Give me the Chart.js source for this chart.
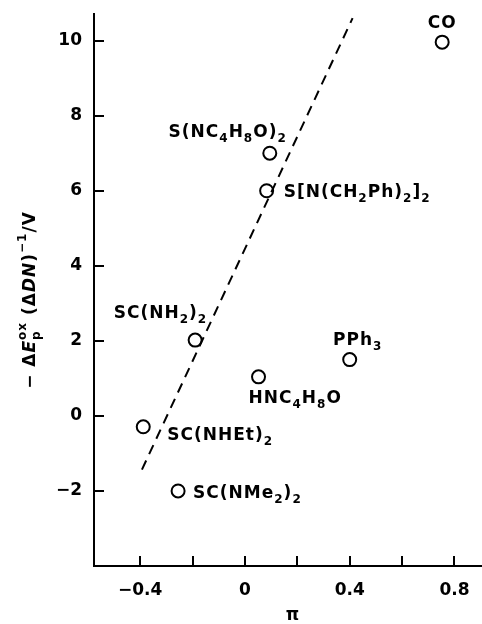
<!DOCTYPE html>
<html><head><meta charset="utf-8">
<script src="https://cdn.jsdelivr.net/npm/chart.js@4/dist/chart.umd.min.js"></script>
<style>html,body{margin:0;padding:0;background:#fff}#wrap{width:482px;height:624px}</style>
</head><body><div id="wrap"><canvas id="c" width="482" height="624"></canvas></div>
<script>
// ---- data ----
const ligands = ['CO','S(NC_4H_8O)_2','S[N(CH_2Ph)_2]_2','SC(NH_2)_2','PPh_3','HNC_4H_8O','SC(NHEt)_2','SC(NMe_2)_2'];
const piValues = [0.753, 0.095, 0.083, -0.19, 0.40, 0.052, -0.388, -0.255];
const dEValues = [9.96, 7.0, 6.0, 2.02, 1.5, 1.04, -0.29, -2.0];
const fitLineX = [-0.393, 0.411];
const fitLineY = [-1.43, 10.6];
const xTickValues = [-0.4, -0.2, 0, 0.2, 0.4, 0.6, 0.8];
const xTickLabels = ['\u22120.4', '', '0', '', '0.4', '', '0.8'];
const yTickValues = [-2, 0, 2, 4, 6, 8, 10];
const yTickLabels = ['\u22122', '0', '2', '4', '6', '8', '10'];

// ---- label placement (styling, px offsets from point) ----
const labelPlacement = [
  {align:'center', dx:0, dy:-14},
  {align:'right', dx:17, dy:-16},
  {align:'left', dx:17, dy:6},
  {align:'right', dx:12, dy:-22},
  {align:'center', dx:8, dy:-15},
  {align:'left', dx:-10, dy:26},
  {align:'left', dx:24, dy:13},
  {align:'left', dx:15, dy:7}
];

const FAM = '"DejaVu Sans", sans-serif';
const MAIN = 17, SUB = 12;

function parseRich(s){
  const segs=[]; let i=0;
  while(i<s.length){
    if(s[i]==='_'){ segs.push({t:s[i+1], pos:'sub'}); i+=2; }
    else { let j=i; while(j<s.length && s[j]!=='_') j++; segs.push({t:s.slice(i,j), pos:'base'}); i=j; }
  }
  return segs;
}
function setSegFont(ctx, seg){
  const size = seg.pos==='base' ? MAIN : SUB;
  ctx.font = (seg.italic?'italic ':'') + 'bold ' + size + 'px ' + FAM;
}
function segWidth(ctx, seg){
  if (seg.stack){ return Math.max(...seg.stack.map(s=>segWidth(ctx,s))); }
  setSegFont(ctx, seg); return ctx.measureText(seg.t).width;
}
function drawSeg(ctx, seg, x, y){
  if (seg.stack){ seg.stack.forEach(s=>drawSeg(ctx,s,x,y)); return; }
  setSegFont(ctx, seg);
  const off = seg.pos==='sub' ? 5 : seg.pos==='sup' ? -9 : 0;
  ctx.fillText(seg.t, x, y+off);
}
function drawRich(ctx, segs, x, y, align){
  let w = 0; segs.forEach(s=>{ w += segWidth(ctx,s); });
  let cx = align==='left' ? x : align==='right' ? x-w : x-w/2;
  ctx.textAlign='left'; ctx.textBaseline='alphabetic';
  segs.forEach(s=>{ const sw = segWidth(ctx,s); drawSeg(ctx,s,cx,y); cx += sw; });
}

const annotPlugin = {
  id:'annot',
  afterDatasetsDraw(chart){
    const ctx = chart.ctx, xs = chart.scales.x, ys = chart.scales.y;
    ctx.save();
    ctx.fillStyle='#000'; ctx.strokeStyle='#000'; ctx.lineWidth=2;
    // inward ticks
    const bottom = chart.chartArea.bottom, left = chart.chartArea.left;
    xTickValues.forEach(v=>{ const p = Math.round(xs.getPixelForValue(v)); ctx.beginPath(); ctx.moveTo(p, bottom); ctx.lineTo(p, bottom-10); ctx.stroke(); });
    yTickValues.forEach(v=>{ const p = Math.round(ys.getPixelForValue(v)); ctx.beginPath(); ctx.moveTo(left, p); ctx.lineTo(left+10, p); ctx.stroke(); });
    // point labels
    ctx.letterSpacing = '1px';
    const meta = chart.getDatasetMeta(1);
    ligands.forEach((lab,i)=>{
      const el = meta.data[i]; const pl = labelPlacement[i];
      drawRich(ctx, parseRich(lab), el.x + pl.dx, el.y + pl.dy, pl.align);
    });
    // y title
    ctx.save();
    ctx.translate(35, 300); ctx.rotate(-Math.PI/2);
    const ySegs = [
      {t:'\u2212 \u0394', pos:'base'},
      {t:'E', pos:'base', italic:true},
      {stack:[{t:'p', pos:'sub'},{t:'ox', pos:'sup'}]},
      {t:' (\u0394', pos:'base'},
      {t:'DN', pos:'base', italic:true},
      {t:')', pos:'base'},
      {t:'\u22121', pos:'sup'},
      {t:'/V', pos:'base'}
    ];
    drawRich(ctx, ySegs, 0, 0, 'center');
    ctx.restore();
    // x title
    drawRich(ctx, [{t:'\u03c0', pos:'base'}], 293, 620, 'center');
    ctx.restore();
  }
};

function fixPad(s){ s.paddingLeft = 0; s.paddingRight = 0; s.paddingTop = 0; s.paddingBottom = 0; }

new Chart(document.getElementById('c'), {
  data: {
    datasets: [
      { type:'line', data: fitLineX.map((x,i)=>({x, y:fitLineY[i]})), borderColor:'#000', borderWidth:2, borderDash:[10,7], pointRadius:0, fill:false },
      { type:'scatter', data: piValues.map((x,i)=>({x, y:dEValues[i]})), pointStyle:'circle', pointRadius:6.5, pointBorderWidth:2, borderColor:'#000', backgroundColor:'rgba(0,0,0,0)', pointBackgroundColor:'rgba(0,0,0,0)', pointBorderColor:'#000' }
    ]
  },
  options: {
    responsive:false, devicePixelRatio:1, animation:false,
    layout:{ autoPadding:false, padding:{ top:14, right:0, left:0, bottom:0 } },
    plugins:{ legend:{display:false}, tooltip:{enabled:false}, title:{display:false} },
    scales:{
      x:{ type:'linear', min:-0.576, max:0.905,
        grid:{display:false, drawTicks:false},
        border:{display:true, color:'#000', width:2},
        afterBuildTicks: s => { s.ticks = xTickValues.map(v=>({value:v})); },
        afterFit: s => { s.height = 58; fixPad(s); },
        ticks:{ color:'#000', font:{family:FAM, size:17, weight:'bold'}, padding:14, maxRotation:0, autoSkip:false,
          callback:(v)=>{ const k = xTickValues.findIndex(t=>Math.abs(t-v)<1e-6); return k>=0 ? xTickLabels[k] : ''; } }
      },
      y:{ type:'linear', min:-4, max:10.71,
        grid:{display:false, drawTicks:false},
        border:{display:true, color:'#000', width:2},
        afterBuildTicks: s => { s.ticks = yTickValues.map(v=>({value:v})); },
        afterFit: s => { s.width = 94; fixPad(s); },
        ticks:{ color:'#000', font:{family:FAM, size:17, weight:'bold'}, padding:12, autoSkip:false,
          callback:(v)=>{ const k = yTickValues.findIndex(t=>Math.abs(t-v)<1e-6); return k>=0 ? yTickLabels[k] : ''; } }
      }
    }
  },
  plugins:[annotPlugin]
});
</script></body></html>
